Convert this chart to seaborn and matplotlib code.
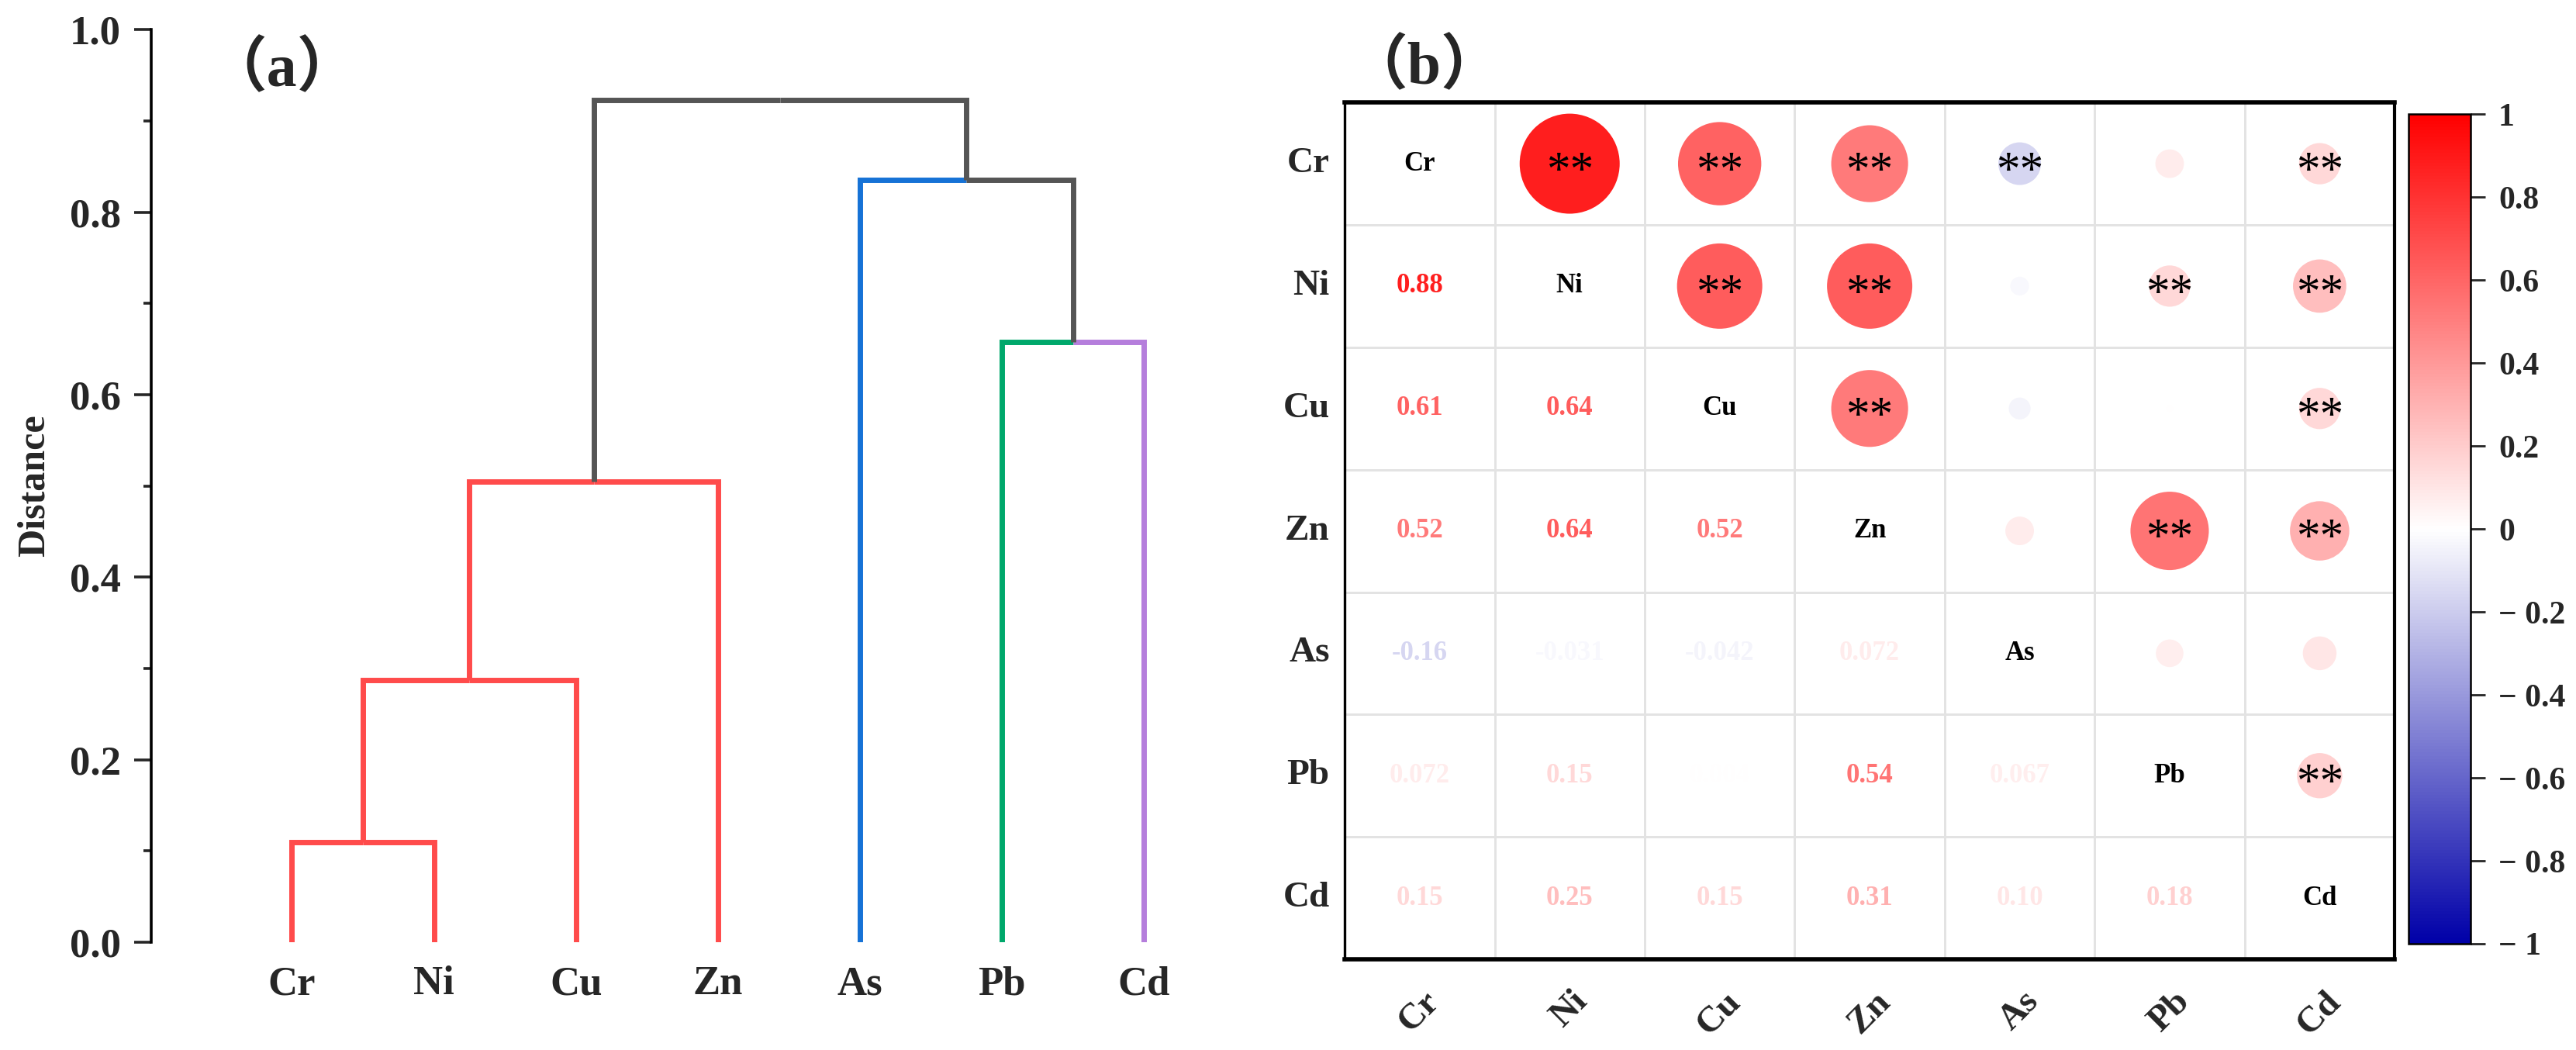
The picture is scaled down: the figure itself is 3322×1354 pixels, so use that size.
import numpy as np
import pandas as pd
import matplotlib
matplotlib.use("Agg")
import matplotlib.pyplot as plt
import seaborn as sns
from matplotlib.colors import LinearSegmentedColormap, ListedColormap, Normalize
from matplotlib.cm import ScalarMappable
from matplotlib.ticker import MultipleLocator

# ---- data ----
elements = ["Cr", "Ni", "Cu", "Zn", "As", "Pb", "Cd"]

# dendrogram merges, scipy style: ids 0-6 are leaves, merge k creates id 7+k
merge_a = [0, 7, 8, 5, 4, 9]
merge_b = [1, 2, 3, 6, 10, 11]
merge_h = [0.110, 0.287, 0.505, 0.658, 0.835, 0.923]
# colour of the branch above each node (leaves 0-6, then merged clusters 7-11)
branch_colors = ["#FF4B4B", "#FF4B4B", "#FF4B4B", "#FF4B4B", "#1672D6", "#00A86B", "#B57EDC",
                 "#FF4B4B", "#FF4B4B", "#555555", "#555555", "#555555"]

# Pearson correlation matrix
corr = [
    [1.00, 0.88, 0.61, 0.52, -0.16, 0.072, 0.15],
    [0.88, 1.00, 0.64, 0.64, -0.031, 0.15, 0.25],
    [0.61, 0.64, 1.00, 0.52, -0.042, 0.004, 0.15],
    [0.52, 0.64, 0.52, 1.00, 0.072, 0.54, 0.31],
    [-0.16, -0.031, -0.042, 0.072, 1.00, 0.067, 0.10],
    [0.072, 0.15, 0.004, 0.54, 0.067, 1.00, 0.18],
    [0.15, 0.25, 0.15, 0.31, 0.10, 0.18, 1.00],
]
# significance marks for the upper triangle (row, col)
sig_cells = [(0, 1), (0, 2), (0, 3), (0, 4), (0, 6),
             (1, 2), (1, 3), (1, 5), (1, 6),
             (2, 3), (2, 6),
             (3, 5), (3, 6),
             (5, 6)]

sns.set_theme(style="white")
plt.rcParams["font.family"] = ["Liberation Serif", "Noto Sans CJK SC"]
plt.rcParams["font.weight"] = "bold"
plt.rcParams["axes.labelweight"] = "bold"

cmap = LinearSegmentedColormap.from_list(
    "corr", [(0.0, "#0000A8"), (0.5, "#FFFFFF"), (1.0, "#FF0000")])
norm = Normalize(-1, 1)

fig = plt.figure(figsize=(16.61, 6.77), dpi=200)

# ---- (a) dendrogram ----
ax1 = fig.add_axes([0.0587, 0.1027, 0.44, 0.869])
node_x = list(range(len(elements)))
node_h = [0.0] * len(elements)
for a, b, h in zip(merge_a, merge_b, merge_h):
    mx = (node_x[a] + node_x[b]) / 2
    for child in (a, b):
        ax1.plot([node_x[child], node_x[child], mx], [node_h[child], h, h],
                 color=branch_colors[child], lw=2.5, solid_capstyle="butt",
                 solid_joinstyle="miter")
    node_x.append(mx)
    node_h.append(h)

ax1.set_xlim(-0.99, 6.99)
ax1.set_ylim(0, 1.0)
ax1.yaxis.set_major_locator(MultipleLocator(0.2))
ax1.yaxis.set_minor_locator(MultipleLocator(0.1))
ax1.yaxis.set_major_formatter(lambda v, p: f"{v:.1f}")
ax1.set_xticks(range(len(elements)))
ax1.set_xticklabels(elements, fontsize=19, fontweight="bold")
ax1.tick_params(axis="x", length=0, pad=11)
ax1.tick_params(axis="y", which="major", length=8, width=1.3, direction="out",
                labelsize=19, pad=6, left=True)
ax1.tick_params(axis="y", which="minor", length=3.6, width=1.3, direction="out", left=True)
for s in ["top", "right", "bottom"]:
    ax1.spines[s].set_visible(False)
ax1.spines["left"].set_color("black")
ax1.spines["left"].set_linewidth(1.3)
ax1.set_ylabel("Distance", fontsize=18, fontweight="bold", labelpad=8)
ax1.text(0.115, 0.955, "（a）", transform=ax1.transAxes, fontsize=28,
         fontweight="bold", ha="center", va="center")

# ---- (b) correlation matrix ----
ax2 = fig.add_axes([0.522, 0.0864, 0.4076, 0.816])
n = len(elements)
sns.heatmap(np.zeros((n, n)), cmap=ListedColormap(["white"]), cbar=False,
            linewidths=1.0, linecolor="#E3E3E3", ax=ax2,
            xticklabels=elements, yticklabels=elements)

rows = []
for i in range(n):
    for j in range(i + 1, n):
        r = corr[i][j]
        rows.append({"x": j + 0.5, "y": i + 0.5, "r": r, "absr": abs(r)})
upper = pd.DataFrame(rows)
sns.scatterplot(data=upper, x="x", y="y", hue="r", size="absr", palette=cmap,
                hue_norm=(-1, 1), sizes=(0, 2450), size_norm=(0, 1),
                linewidth=0, legend=False, ax=ax2, zorder=3)

for i in range(n):
    for j in range(n):
        if i == j:
            ax2.text(j + 0.5, i + 0.5, elements[i], ha="center", va="center",
                     fontsize=12.5, fontweight="bold", color="black", zorder=4)
        elif i > j:
            r = corr[i][j]
            lab = f"{r:.2f}" if abs(r) >= 0.1 else f"{r:.2g}"
            ax2.text(j + 0.5, i + 0.5, lab, ha="center", va="center",
                     fontsize=12.5, fontweight="bold", color=cmap(norm(r)), zorder=4)
for i, j in sig_cells:
    ax2.text(j + 0.5, i + 0.57, "**", ha="center", va="center", fontsize=22,
             fontweight="normal", color="black", zorder=5)

ax2.set_xlim(0, n)
ax2.set_ylim(n, 0)
ax2.set_xlabel("")
ax2.set_ylabel("")
ax2.set_xticks(np.arange(n) + 0.5)
ax2.set_yticks(np.arange(n) + 0.5)
ax2.set_xticklabels(elements, rotation=45, ha="center", fontsize=17, fontweight="bold")
ax2.set_yticklabels(elements, rotation=0, fontsize=17, fontweight="bold")
ax2.tick_params(axis="x", length=0, pad=12)
ax2.tick_params(axis="y", length=0, pad=7)
for s, w in zip(["top", "bottom", "left", "right"], [2.0, 2.0, 1.2, 1.5]):
    ax2.spines[s].set_visible(True)
    ax2.spines[s].set_color("black")
    ax2.spines[s].set_linewidth(w)
    ax2.spines[s].set_zorder(6)
fig.text(0.553, 0.935, "（b）", fontsize=28, fontweight="bold", ha="center", va="center")

# ---- colorbar ----
cax = fig.add_axes([0.935, 0.1012, 0.024, 0.790])
cb = fig.colorbar(ScalarMappable(norm=norm, cmap=cmap), cax=cax)
ticks = np.round(np.arange(-1, 1.01, 0.2), 1)
cb.set_ticks(ticks)
cb.set_ticklabels(["1" if t == 1 else "0" if t == 0 else "\u2212 1" if t == -1
                   else (f"\u2212 {abs(t):.1f}" if t < 0 else f"{t:.1f}") for t in ticks])
cb.outline.set_edgecolor("black")
cb.outline.set_linewidth(0.9)
cax.tick_params(length=7, width=1.0, labelsize=15, pad=6, right=True, direction="out")

fig.savefig("out.png", dpi=200)
